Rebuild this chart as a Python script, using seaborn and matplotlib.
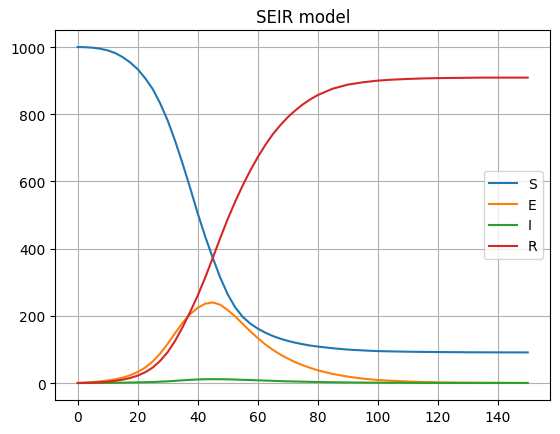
import numpy as np
import pandas as pd
import matplotlib
matplotlib.use("Agg")
import matplotlib.pyplot as plt
import seaborn as sns

# tiempo (dias)
t = [0, 2.5, 5, 7.5, 10, 12.5, 15, 17.5, 20, 22.5, 25, 27.5, 30, 32.5, 35, 37.5,
     40, 42.5, 45, 47.5, 50, 52.5, 55, 57.5, 60, 62.5, 65, 67.5, 70, 72.5, 75, 77.5,
     80, 85, 90, 95, 100, 105, 110, 115, 120, 125, 130, 135, 140, 145, 150]

S = [1000, 999.5, 998, 995, 990, 982, 970, 954, 934, 907, 875, 832, 781, 720, 652, 580,
     505, 436, 373, 314, 264, 225, 197, 177, 162, 150, 140, 132, 125.5, 120, 115.5, 111.5,
     108.5, 103.5, 99.5, 97, 95, 94, 93.2, 92.6, 92.2, 91.8, 91.5, 91.3, 91.2, 91.1, 91]

E = [0, 1.3, 3, 5, 7.5, 11, 16, 23, 33, 46, 64, 88, 117, 149, 180, 205,
     224, 236, 240, 233, 217, 198, 176, 154, 134, 115, 99, 85, 73, 62, 53, 45,
     38, 27, 19, 13, 9, 6.5, 4.5, 3, 2, 1.4, 1, 0.7, 0.5, 0.3, 0.2]

I = [0, 0.1, 0.2, 0.3, 0.5, 0.7, 1, 1.5, 2, 2.5, 3, 4, 5, 6.5, 8, 9.5,
     10.5, 11.2, 11.5, 11.3, 11, 10.3, 9.5, 8.8, 8, 7.2, 6.5, 5.7, 5, 4.5, 4, 3.5,
     3, 2.3, 1.7, 1.3, 1, 0.8, 0.6, 0.4, 0.3, 0.2, 0.2, 0.1, 0.1, 0.1, 0.1]

R = [0, 0.3, 1, 2.2, 4, 6.5, 10, 15, 22, 32, 46, 66, 92, 126, 167, 212,
     260, 314, 372, 431, 488, 540, 588, 632, 672, 708, 740, 767, 791, 811, 829, 844,
     857, 876, 888, 895, 900, 903, 905, 906.5, 907.5, 908, 908.5, 909, 909, 909, 909]

series = {"S": S, "E": E, "I": I, "R": R}
colores = ["#1f77b4", "#ff7f0e", "#2ca02c", "#d62728"]

fig = plt.figure(figsize=(5.6, 4.35), dpi=100)
ax = fig.add_axes([0.0986, 0.0786, 0.8839, 0.8496])

for (nombre, valores), color in zip(series.items(), colores):
    sns.lineplot(x=t, y=valores, label=nombre, color=color, linewidth=1.5, ax=ax)

ax.set_title("SEIR model")
ax.grid(True)
ax.legend(loc="center right")

fig.savefig("out.png", dpi=100)
